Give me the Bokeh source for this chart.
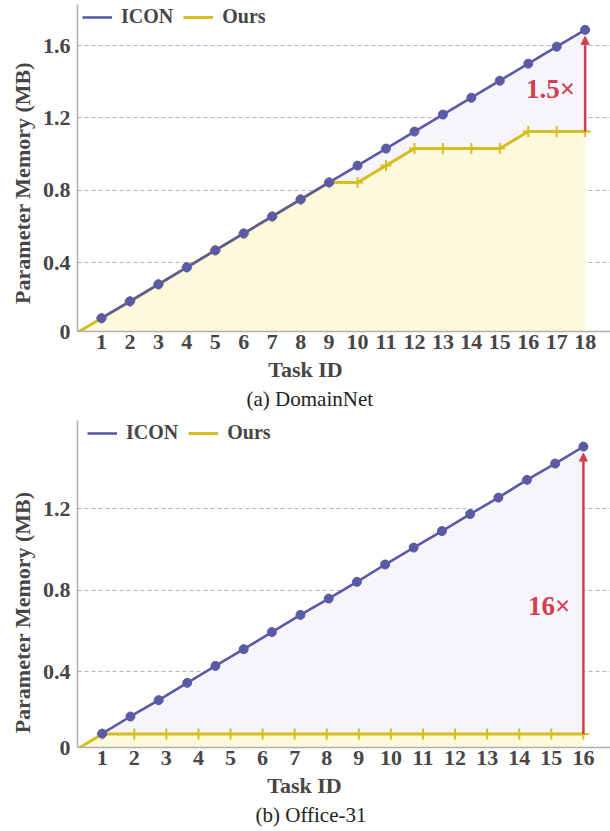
from bokeh.plotting import figure
from bokeh.layouts import column
from bokeh.models import (FixedTicker, Legend, LegendItem, Label, Range1d,
                          Arrow, NormalHead, LinearAxis, Title)
from bokeh.embed import file_html
from bokeh.resources import INLINE

# ---------------- data ----------------
# (a) DomainNet
tasks_a = [1, 2, 3, 4, 5, 6, 7, 8, 9, 10, 11, 12, 13, 14, 15, 16, 17, 18]
icon_a = [0.094, 0.187, 0.281, 0.375, 0.469, 0.562, 0.656, 0.750, 0.844,
          0.937, 1.031, 1.125, 1.219, 1.312, 1.406, 1.500, 1.594, 1.687]
ours_a = [0.094, 0.187, 0.281, 0.375, 0.469, 0.562, 0.656, 0.750, 0.844,
          0.844, 0.937, 1.031, 1.031, 1.031, 1.031, 1.125, 1.125, 1.125]
yticks_a = [0.4, 0.8, 1.2, 1.6]
ylabels_a = ["0", "0.4", "0.8", "1.2", "1.6"]

# (b) Office-31
tasks_b = [1, 2, 3, 4, 5, 6, 7, 8, 9, 10, 11, 12, 13, 14, 15, 16]
icon_b_x = [1.00, 1.88, 2.76, 3.65, 4.53, 5.41, 6.29, 7.18, 8.06,
            8.94, 9.82, 10.71, 11.59, 12.47, 13.35, 14.24, 15.12, 16.00]
icon_b = [0.097, 0.181, 0.261, 0.346, 0.429, 0.511, 0.595, 0.679, 0.759,
          0.841, 0.926, 1.009, 1.090, 1.173, 1.254, 1.341, 1.421, 1.504]
ours_b = [0.095, 0.095, 0.095, 0.095, 0.095, 0.095, 0.095, 0.095,
          0.095, 0.095, 0.095, 0.095, 0.095, 0.095, 0.095, 0.095]
yticks_b = [0.4, 0.8, 1.2]
ylabels_b = ["0", "0.4", "0.8", "1.2"]

series_names = ["ICON", "Ours"]
ratio_text_a = "1.5×"
ratio_y_a = 1.362
ratio_text_b = "16×"
ratio_y_b = 0.725
caption_a = "(a) DomainNet"
caption_b = "(b) Office-31"
x_title = "Task ID"
y_title = "Parameter Memory (MB)"

# ---------------- style ----------------
FONT = "Liberation Serif"
TXT = "#464646"
C_ICON = "#5a5aa6"
C_OURS = "#d5be1f"
C_RED = "#d1404f"
F_ICON = "#f7f5fa"
F_OURS = "#fcf9dc"
C_AXIS = "#b0b0b0"
C_GRID = "#b4b4b4"


def panel(tasks, icon_x, icon_y, ours_y, yticks, ylabels, ratio_text, ratio_y,
          caption, g):
    fw, fh = g["FW"], g["FH"]
    y0, y1 = g["y0"], g["y0"] + fh / g["ppu"]
    x0, x1 = g["x0"], g["x0"] + fw / g["xpu"]
    p = figure(frame_width=fw, frame_height=fh,
               x_range=Range1d(x0, x1), y_range=Range1d(y0, y1),
               output_backend="svg", toolbar_location=None,
               min_border_left=g["BL"], min_border_right=0,
               min_border_top=g["BT"], min_border_bottom=g["BB"])
    p.outline_line_color = None
    p.background_fill_color = "white"
    p.xgrid.visible = False
    p.ygrid.ticker = FixedTicker(ticks=yticks)
    p.ygrid.grid_line_color = C_GRID
    p.ygrid.grid_line_dash = "4 3"
    p.ygrid.grid_line_width = 1

    p.xaxis.ticker = FixedTicker(ticks=tasks)
    yt = [y0] + yticks
    p.yaxis.ticker = FixedTicker(ticks=yt)
    p.yaxis.major_label_overrides = {t: s for t, s in zip(yt, ylabels)}
    for ax in (p.xaxis[0], p.yaxis[0]):
        ax.axis_line_color = C_AXIS
        ax.axis_line_width = 1.5
        ax.major_tick_line_color = None
        ax.minor_tick_line_color = None
        ax.major_tick_out = 0
        ax.major_tick_in = 0
        ax.major_label_text_font = FONT
        ax.major_label_text_font_style = "bold"
        ax.major_label_text_font_size = "22px"
        ax.major_label_text_color = TXT
    p.xaxis.major_label_standoff = 3
    p.yaxis.major_label_standoff = 7

    # axis titles: a single labelled position on an extra line-less axis,
    # so they sit where the reference puts them (not centred on the frame)
    def title_axis(pos, text, standoff, orient):
        return LinearAxis(ticker=FixedTicker(ticks=[pos]),
                          major_label_overrides={pos: text},
                          major_label_orientation=orient,
                          axis_line_color=None, major_tick_line_color=None,
                          minor_tick_line_color=None, major_tick_out=0,
                          major_tick_in=0, major_label_standoff=standoff,
                          major_label_text_font=FONT,
                          major_label_text_font_style="bold",
                          major_label_text_font_size="22px",
                          major_label_text_color=TXT)
    p.add_layout(title_axis(g["ylc"], y_title, g["yls"], "parallel"), "left")
    p.add_layout(title_axis(g["xlc"], x_title, g["xls"], "horizontal"), "below")
    p.add_layout(Title(text=caption, align="left", offset=g["cap_off"],
                       standoff=g["cap_st"], text_font=FONT,
                       text_font_style="normal", text_font_size="21px",
                       text_color="#222222"), "below")

    # fills
    p.varea(x=icon_x, y1=0, y2=icon_y, fill_color=F_ICON)
    p.varea(x=[0] + tasks, y1=0, y2=[0] + ours_y, fill_color=F_OURS)
    # ours
    r_ours = p.line([0] + tasks, [0] + ours_y, line_color=C_OURS, line_width=3)
    p.scatter(tasks, ours_y, marker="cross", size=11, line_color=C_OURS,
              line_width=2)
    # ICON
    r_icon = p.line(icon_x, icon_y, line_color=C_ICON, line_width=2.6)
    p.scatter(icon_x, icon_y, marker="circle", size=9, fill_color=C_ICON,
              line_color=C_ICON)

    # ratio arrow
    gap = 6.5 / g["ppu"]
    p.add_layout(Arrow(x_start=tasks[-1], y_start=ours_y[-1],
                       x_end=tasks[-1], y_end=icon_y[-1] - gap,
                       line_color=C_RED, line_width=2.5,
                       end=NormalHead(size=8, fill_color=C_RED,
                                      line_color=C_RED, line_width=1)))
    p.add_layout(Label(x=tasks[-1], y=ratio_y, x_offset=g["rx"], text=ratio_text,
                       text_align="right", text_baseline="middle",
                       text_font=FONT, text_font_style="bold",
                       text_font_size="27px", text_color=C_RED))

    legend = Legend(items=[LegendItem(label=series_names[0], renderers=[r_icon]),
                           LegendItem(label=series_names[1], renderers=[r_ours])],
                    orientation="horizontal", location=(10, g["ly"]),
                    padding=0, margin=0, spacing=10, glyph_width=30,
                    glyph_height=20, label_standoff=9,
                    border_line_color=None, background_fill_alpha=0,
                    label_text_font=FONT, label_text_font_style="bold",
                    label_text_font_size="20px", label_text_color=TXT)
    p.add_layout(legend)
    return p


geom_a = dict(FW=534, FH=327, BL=76, BT=4, BB=81, x0=0.1564, xpu=28.45,
              y0=0.0204, ppu=181.0, ly=303, rx=-10,
              ylc=0.841, yls=4, xlc=8.170, xls=5, cap_off=169, cap_st=0)
geom_b = dict(FW=533, FH=327, BL=77, BT=8, BB=82, x0=0.23, xpu=32.08,
              y0=0.029, ppu=204.0, ly=303, rx=-13,
              ylc=0.691, yls=4, xlc=7.306, xls=5, cap_off=178, cap_st=0)

pa = panel(tasks_a, tasks_a, icon_a, ours_a, yticks_a, ylabels_a,
           ratio_text_a, ratio_y_a, caption_a, geom_a)
pb = panel(tasks_b, icon_b_x, icon_b, ours_b, yticks_b, ylabels_b,
           ratio_text_b, ratio_y_b, caption_b, geom_b)

layout = column(pa, pb, spacing=0)
open("out.html", "w").write(file_html(layout, INLINE))
